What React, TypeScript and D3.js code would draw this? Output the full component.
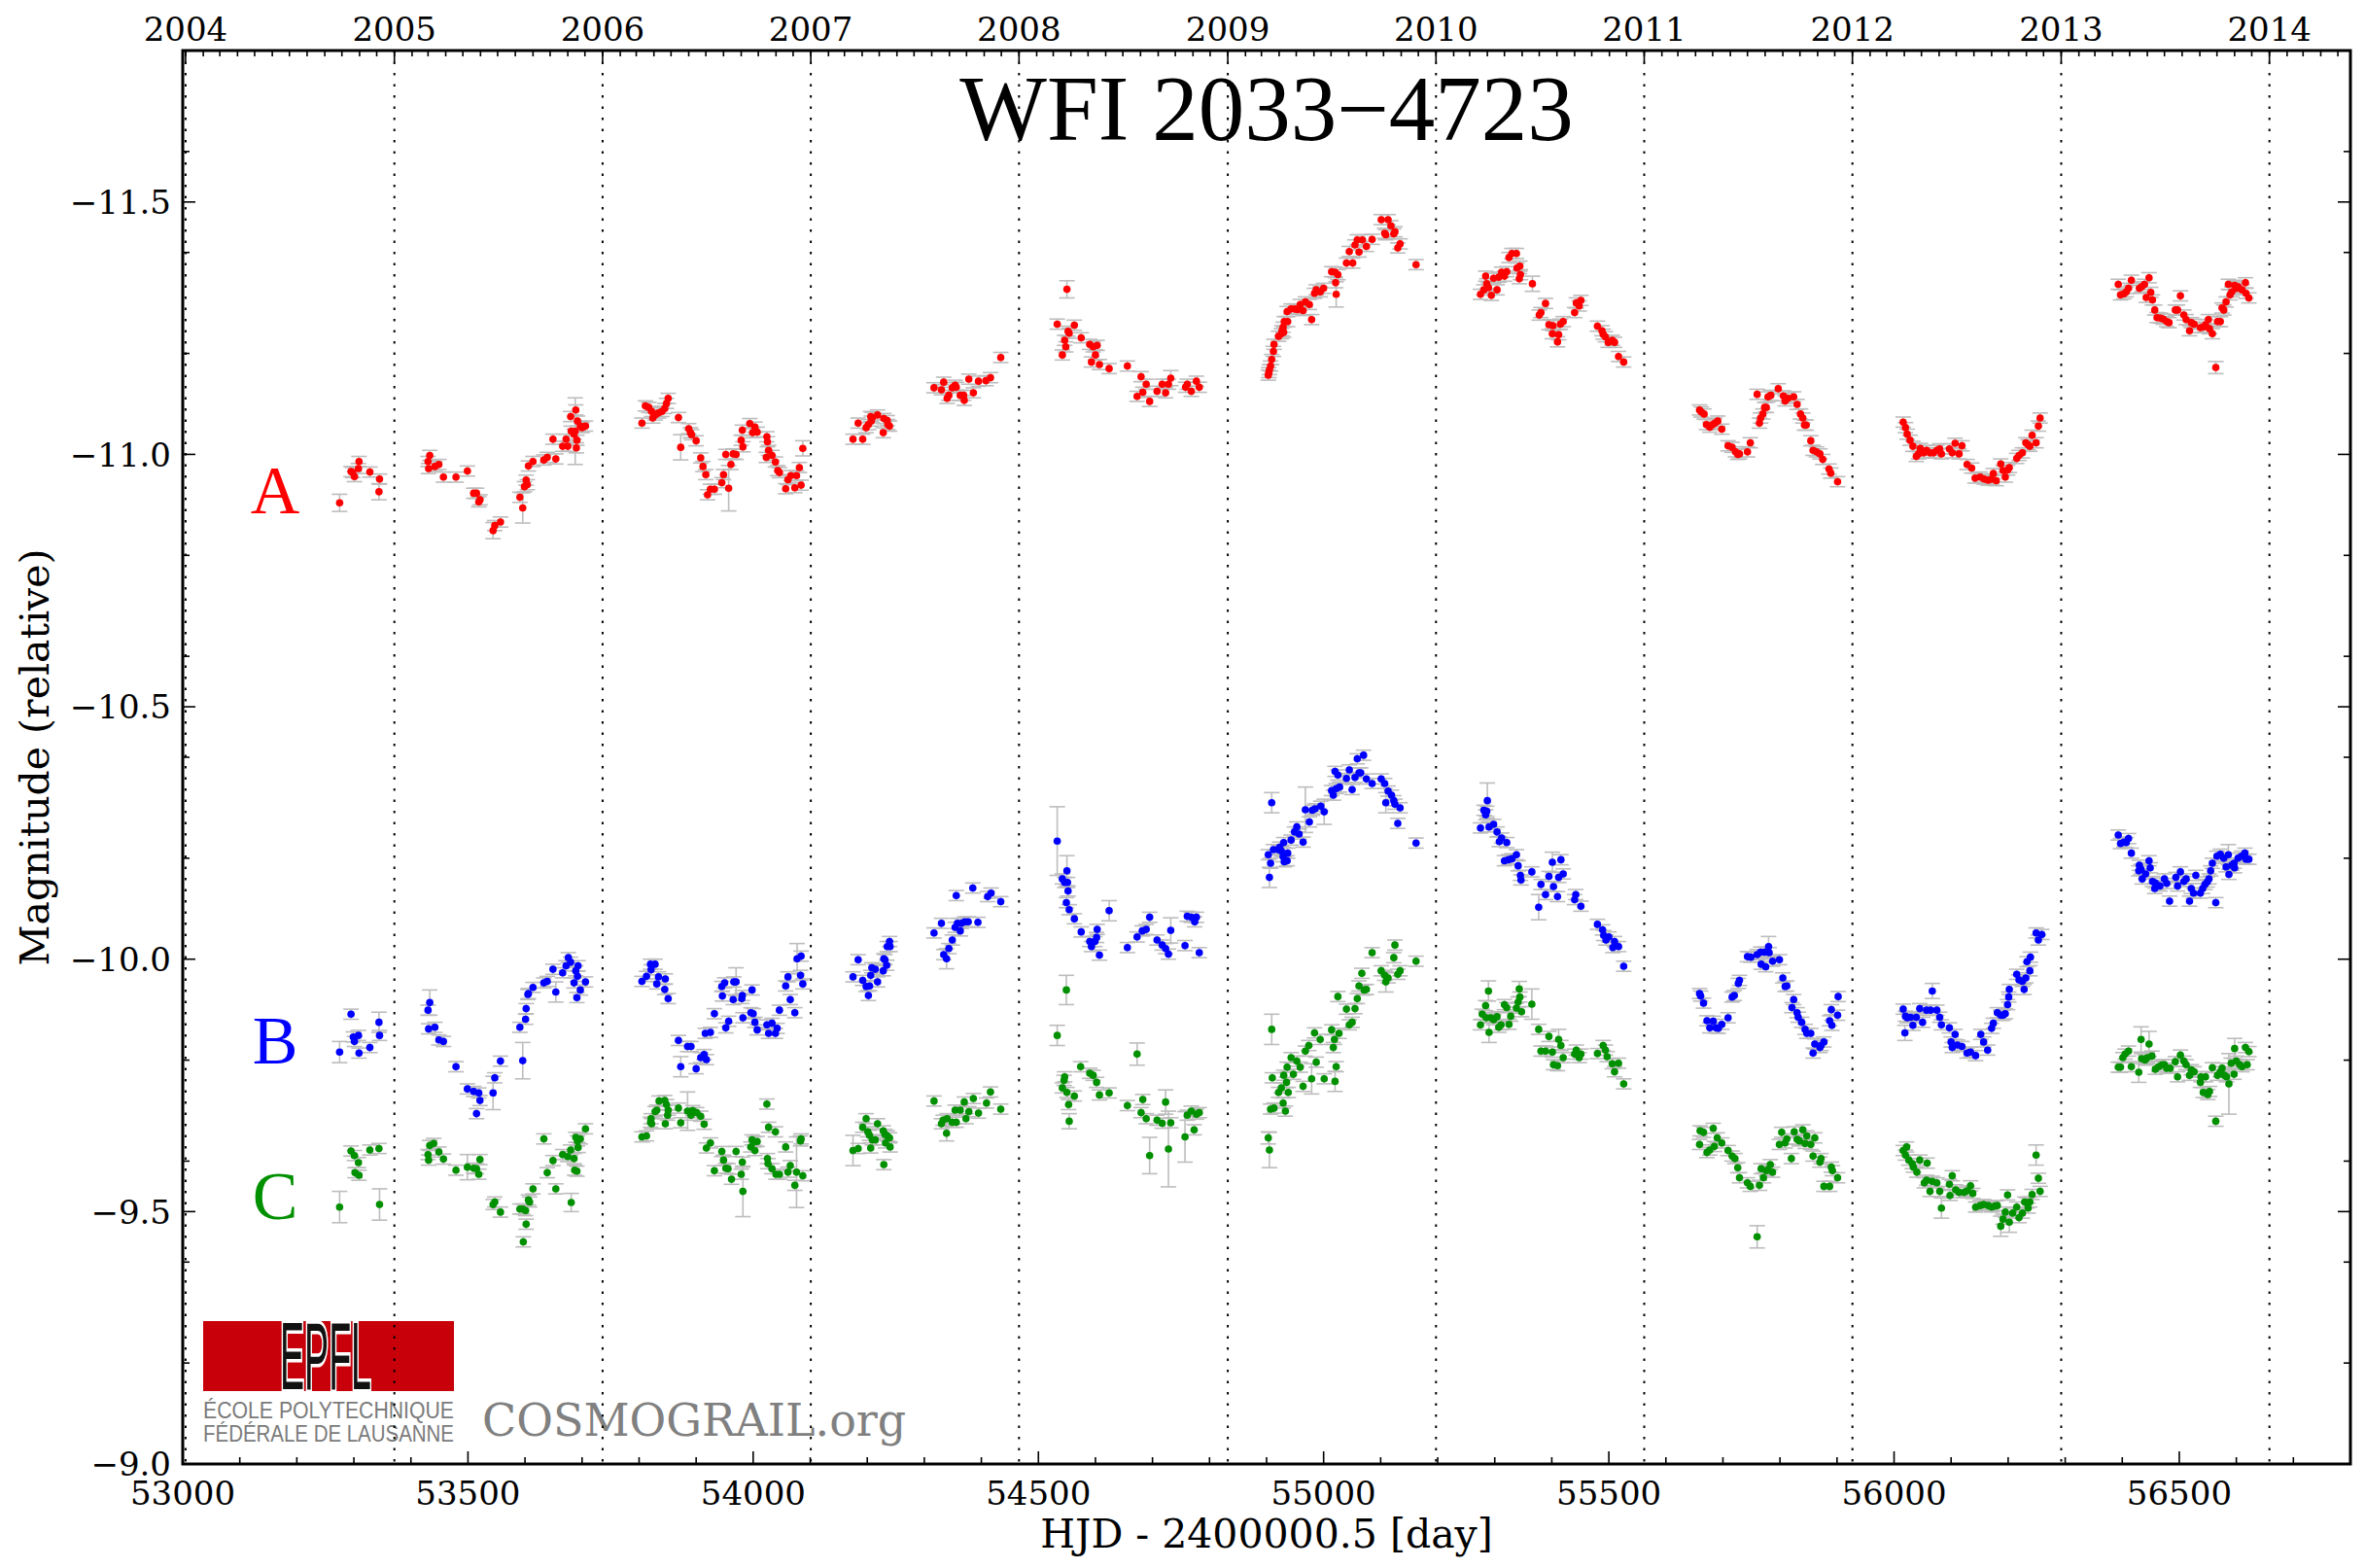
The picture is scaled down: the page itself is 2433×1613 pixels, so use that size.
import React from 'react';
import * as d3 from 'd3';

// [HJD - 2400000.5, magnitude, optional 1-sigma error]
type Obs = [number, number, number?];

const TITLE = 'WFI 2033\u22124723';
const X_LABEL = 'HJD - 2400000.5 [day]';
const Y_LABEL = 'Magnitude (relative)';

const X_DOMAIN: [number, number] = [53000, 56800];
const Y_DOMAIN: [number, number] = [-11.8, -9.0];
const X_MAJOR = [53000, 53500, 54000, 54500, 55000, 55500, 56000, 56500];
const X_MINOR_STEP = 100;
const Y_MAJOR = [-11.5, -11.0, -10.5, -10.0, -9.5, -9.0];
const Y_MINOR = [-11.8, -11.6, -11.4, -11.2, -10.8, -10.6, -10.4, -10.2, -9.8, -9.6, -9.4, -9.2];
const YEARS = [2004, 2005, 2006, 2007, 2008, 2009, 2010, 2011, 2012, 2013, 2014];
const DEFAULT_ERR = 0.01;

const IMAGE_A: Obs[] = [
  [53275,-10.904,0.017],[53295,-10.966],[53298,-10.964],[53301,-10.956],[53308,-10.972],[53309,-10.986],[53328,-10.965],[53344,-10.926,0.016],[53345,-10.951],
  [53430,-10.986],[53431,-10.972],[53433,-10.998],[53442,-10.976],[53449,-10.980],[53457,-10.955],[53479,-10.955],[53499,-10.967],[53510,-10.923],[53515,-10.923],[53519,-10.906],[53521,-10.910],[53544,-10.849,0.016],[53547,-10.859],[53557,-10.866],[53591,-10.915],[53596,-10.894,0.03],[53599,-10.936],[53602,-10.949],[53604,-10.940],[53606,-10.977],[53614,-10.986],[53633,-10.989],[53639,-10.994],[53649,-11.030],[53654,-10.991],[53666,-11.016],[53672,-11.030],[53675,-11.016],[53680,-11.075],[53681,-11.046],[53686,-11.040],[53688,-11.046,0.066],[53689,-11.088],[53690,-11.013],[53691,-11.028],[53692,-11.066],[53697,-11.056],[53700,-11.053],[53706,-11.056],
  [53805,-11.062],[53811,-11.096],[53817,-11.093],[53822,-11.085],[53824,-11.072],[53828,-11.078],[53834,-11.082],[53840,-11.085],[53845,-11.091],[53848,-11.101],[53851,-11.111],[53869,-11.073],[53873,-11.014,0.025],[53887,-11.051],[53890,-11.043],[53892,-11.039],[53900,-11.027],[53908,-10.993],[53912,-10.976],[53917,-10.960],[53920,-10.920],[53925,-10.931],[53932,-10.931],[53945,-10.944],[53948,-10.960],[53952,-11.000],[53957,-10.933,0.045],[53961,-10.980],[53965,-11.001],[53970,-11.000],[53979,-11.028],[53981,-11.048],[53982,-11.015],
  [53994,-11.061],[53999,-11.043],[54003,-11.054],[54007,-11.044],[54023,-10.994],[54024,-11.035],[54025,-11.025],[54027,-11.008],[54033,-10.998],[54039,-10.985],[54043,-10.968],[54046,-10.964],[54057,-10.932],[54061,-10.950],[54066,-10.958],[54073,-10.934],[54076,-10.958],[54081,-10.974],[54084,-10.939],[54087,-11.012,0.015],
  [54175,-11.030],[54184,-11.062],[54192,-11.030],[54198,-11.053],[54202,-11.059],[54206,-11.075],[54207,-11.066],[54209,-11.073],[54218,-11.078],[54228,-11.043],[54229,-11.071],[54235,-11.067],[54236,-11.059],[54239,-11.056],
  [54317,-11.132],[54330,-11.128],[54334,-11.143],[54340,-11.111],[54343,-11.117],[54349,-11.132],[54354,-11.137],[54356,-11.133],[54363,-11.117],[54369,-11.117],[54370,-11.107],[54378,-11.149],[54386,-11.122],[54395,-11.145],[54408,-11.146],[54416,-11.152],[54434,-11.192],
  [54533,-11.258],[54542,-11.197],[54546,-11.226],[54548,-11.213],[54550,-11.327,0.017],[54552,-11.244],[54554,-11.240],[54563,-11.256],[54575,-11.231],[54590,-11.218],[54593,-11.183],[54596,-11.213],[54600,-11.197],[54603,-11.216],[54607,-11.178],[54624,-11.170],[54656,-11.175],[54673,-11.115],[54680,-11.154],[54683,-11.123],[54689,-11.139],[54695,-11.105],[54708,-11.125],[54717,-11.139],[54723,-11.122],[54728,-11.139],[54732,-11.151,0.015],[54758,-11.133],[54761,-11.139],[54768,-11.125],[54777,-11.145],[54782,-11.133],
  [54903,-11.157],[54904,-11.162],[54905,-11.168],[54907,-11.175],[54909,-11.188],[54912,-11.204],[54913,-11.218],[54921,-11.234],[54926,-11.239],[54927,-11.245],[54929,-11.252],[54930,-11.242],[54931,-11.263],[54936,-11.283],[54937,-11.263],[54943,-11.288],[54949,-11.288],[54954,-11.287],[54959,-11.297],[54964,-11.285],[54968,-11.302],[54975,-11.297],[54979,-11.267],[54984,-11.319],[54987,-11.326],[54994,-11.322],[55000,-11.329],[55014,-11.362],[55020,-11.361],[55021,-11.340],[55022,-11.317,0.025],[55025,-11.356],[55040,-11.379],[55045,-11.402],[55051,-11.379],[55055,-11.415],[55059,-11.425],[55062,-11.401],[55068,-11.425],[55075,-11.412],[55085,-11.426],[55101,-11.465],[55107,-11.438],[55109,-11.435],[55113,-11.465],[55118,-11.453],[55123,-11.437],[55125,-11.441],[55130,-11.409],[55134,-11.417],[55162,-11.376],
  [55275,-11.317],[55281,-11.326],[55284,-11.353],[55286,-11.338],[55289,-11.330],[55294,-11.315],[55298,-11.349],[55304,-11.326],[55307,-11.351],[55312,-11.361],[55317,-11.353],[55321,-11.362],[55325,-11.390],[55330,-11.398],[55338,-11.398],[55339,-11.369],[55343,-11.348],[55344,-11.373],[55345,-11.356],[55366,-11.338,0.015],[55378,-11.276],[55381,-11.281],[55389,-11.299],[55395,-11.257],[55401,-11.239],[55402,-11.255],[55410,-11.223],[55412,-11.237],[55415,-11.258],[55420,-11.263],[55440,-11.281],[55443,-11.300],[55448,-11.294],[55451,-11.305],[55480,-11.254],[55488,-11.245],[55490,-11.238],[55494,-11.233],[55499,-11.222],[55506,-11.226],[55510,-11.222],[55517,-11.194],[55526,-11.183],
  [55659,-11.088],[55662,-11.084],[55667,-11.080],[55671,-11.059],[55677,-11.054],[55682,-11.059],[55686,-11.062],[55691,-11.066],[55698,-11.050],[55709,-11.017],[55716,-11.014],[55722,-11.005],[55726,-11.000],[55729,-11.001],[55743,-11.005],[55748,-11.023],[55760,-11.119],[55764,-11.062],[55766,-11.072],[55770,-11.080],[55773,-11.093],[55776,-11.093],[55779,-11.114],[55784,-11.117],[55797,-11.130],[55806,-11.116],[55809,-11.106],[55814,-11.111],[55824,-11.114],[55830,-11.099],[55836,-11.080],[55840,-11.072],[55843,-11.058],[55846,-11.058],[55854,-11.027],[55858,-11.008],[55864,-11.005],[55870,-11.001],[55875,-10.990],[55886,-10.971],[55889,-10.963],[55901,-10.946],
  [56016,-11.064],[56020,-11.053],[56023,-11.040],[56028,-11.028],[56033,-11.016],[56039,-10.996],[56043,-11.001],[56046,-11.012],[56052,-11.003],[56057,-11.008],[56063,-11.003],[56069,-11.003],[56075,-11.008],[56080,-11.011],[56083,-11.001],[56097,-11.011],[56102,-11.003],[56107,-11.022],[56114,-11.001],[56119,-11.017],[56128,-10.980],[56136,-10.973],[56142,-10.953],[56151,-10.955],[56158,-10.951],[56165,-10.949],[56171,-10.951],[56174,-10.962],[56179,-10.948],[56187,-10.981],[56191,-10.968],[56195,-10.955],[56199,-10.969],[56202,-10.974],[56215,-10.992],[56219,-10.998],[56225,-11.003],[56231,-11.023],[56235,-11.019],[56238,-11.016],[56242,-11.038],[56249,-11.023],[56253,-11.056],[56256,-11.072],
  [56393,-11.337],[56397,-11.316],[56403,-11.318],[56407,-11.322],[56411,-11.329],[56416,-11.345],[56430,-11.329],[56434,-11.332],[56439,-11.337],[56442,-11.311],[56447,-11.350],[56450,-11.321],[56453,-11.306],[56457,-11.286],[56461,-11.271],[56467,-11.270],[56472,-11.268],[56478,-11.263],[56482,-11.261],[56493,-11.286],[56497,-11.286],[56502,-11.314],[56508,-11.276],[56512,-11.267],[56518,-11.245],[56521,-11.261],[56526,-11.258],[56537,-11.251],[56542,-11.252],[56546,-11.257],[56551,-11.267],[56553,-11.249],[56558,-11.239],[56564,-11.172,0.012],[56567,-11.263],[56572,-11.263],[56575,-11.290],[56578,-11.286],[56582,-11.302],[56586,-11.337],[56589,-11.316],[56592,-11.322],[56597,-11.335],[56600,-11.329],[56603,-11.332],[56610,-11.326],[56616,-11.340],[56617,-11.319],[56622,-11.310],
];

const IMAGE_B: Obs[] = [
  [53275,-9.816,0.021],[53295,-9.891],[53299,-9.846],[53301,-9.837],[53308,-9.849],[53309,-9.814],[53328,-9.825],[53344,-9.875,0.02],[53345,-9.849],
  [53430,-9.899],[53431,-9.862],[53433,-9.914,0.025],[53442,-9.865],[53449,-9.840],[53457,-9.837],[53479,-9.787],[53499,-9.743],[53510,-9.738],[53515,-9.694],[53519,-9.735],[53521,-9.720],[53544,-9.735,0.033],[53547,-9.765],[53557,-9.798],[53591,-9.865],[53596,-9.799,0.036],[53601,-9.881],[53602,-9.902],[53605,-9.930],[53606,-9.932],[53614,-9.944],[53633,-9.953],[53639,-9.956],[53649,-9.980],[53654,-9.935,0.02],[53666,-9.973],[53672,-9.987],[53676,-10.003],[53680,-9.994],[53686,-9.953],[53689,-9.977],[53691,-9.924],[53692,-9.966],[53693,-9.987],[53697,-9.939],[53706,-9.955],
  [53805,-9.956],[53813,-9.966],[53820,-9.990],[53821,-9.979],[53828,-9.990],[53831,-9.951],[53834,-9.965],[53845,-9.940],[53846,-9.961],[53851,-9.922],[53869,-9.839],[53873,-9.787,0.02],[53885,-9.827],[53891,-9.827],[53900,-9.783],[53908,-9.805],[53914,-9.811],[53916,-9.853],[53918,-9.801],[53925,-9.855],[53932,-9.892],[53945,-9.946],[53946,-9.927],[53950,-9.953],[53952,-9.864],[53957,-9.877],[53965,-9.920],[53966,-9.955],[53970,-9.955,0.028],[53980,-9.922],[53981,-9.928],[53982,-9.884],
  [53996,-9.894],[53998,-9.939],[54000,-9.892],[54003,-9.875],[54007,-9.860],[54024,-9.870],[54027,-9.853],[54033,-9.873],[54039,-9.853],[54042,-9.863],[54046,-9.899],[54057,-9.947],[54061,-9.965],[54065,-9.920],[54073,-9.894],[54077,-10.001,0.03],[54083,-9.968],[54084,-10.006],[54087,-9.951],
  [54175,-9.965],[54184,-9.999],[54192,-9.958],[54198,-9.946],[54202,-9.928],[54204,-9.947],[54206,-9.968],[54208,-9.983],[54214,-9.980],[54218,-9.955],[54228,-9.977],[54229,-10.001],[54231,-9.999],[54234,-9.988],[54235,-10.025],[54239,-10.035],[54240,-10.025],
  [54317,-10.052],[54330,-10.071],[54334,-10.009],[54339,-10.001,0.02],[54343,-10.021],[54349,-10.038],[54354,-10.063],[54356,-10.126],[54358,-10.071],[54363,-10.056],[54365,-10.071],[54371,-10.074],[54377,-10.074],[54385,-10.141],[54394,-10.073],[54411,-10.124],[54417,-10.131],[54434,-10.114],
  [54533,-10.234,0.068],[54542,-10.159],[54546,-10.152],[54549,-10.112],[54550,-10.175,0.03],[54551,-10.152],[54552,-10.135],[54554,-10.098],[54563,-10.080],[54575,-10.054],[54590,-10.035],[54593,-10.025],[54599,-10.035],[54602,-10.043],[54603,-10.059],[54607,-10.008],[54624,-10.096,0.02],[54656,-10.023],[54673,-10.044],[54682,-10.056],[54689,-10.059],[54695,-10.083],[54708,-10.038],[54717,-10.028],[54723,-10.021],[54728,-10.010],[54732,-10.057,0.025],[54757,-10.027],[54761,-10.085],[54768,-10.083],[54774,-10.074],[54777,-10.083],[54782,-10.013],
  [54903,-10.207],[54905,-10.162,0.02],[54907,-10.190],[54909,-10.310,0.02],[54912,-10.217],[54920,-10.217],[54923,-10.222],[54926,-10.214],[54929,-10.203],[54930,-10.231],[54931,-10.193],[54936,-10.195],[54937,-10.210],[54943,-10.236],[54949,-10.252],[54953,-10.262],[54957,-10.248],[54964,-10.232],[54968,-10.296,0.045],[54975,-10.272],[54980,-10.295],[54985,-10.298],[54995,-10.303],[55001,-10.292,0.025],[55014,-10.334],[55017,-10.325],[55020,-10.372],[55022,-10.338],[55025,-10.365],[55028,-10.341],[55040,-10.358],[55045,-10.375],[55050,-10.336],[55055,-10.360],[55059,-10.397],[55062,-10.369],[55065,-10.369],[55070,-10.404],[55075,-10.357],[55085,-10.348],[55101,-10.357],[55107,-10.348],[55109,-10.310,0.02],[55113,-10.333],[55119,-10.325],[55123,-10.314],[55125,-10.307],[55130,-10.269],[55134,-10.300],[55162,-10.230],
  [55275,-10.260],[55281,-10.295],[55284,-10.286],[55286,-10.293],[55287,-10.314,0.035],[55290,-10.262],[55298,-10.267],[55304,-10.252],[55308,-10.233],[55312,-10.240],[55317,-10.195],[55321,-10.231],[55324,-10.197],[55330,-10.199],[55338,-10.207],[55341,-10.185],[55345,-10.166],[55346,-10.157],[55365,-10.173],[55377,-10.103,0.025],[55381,-10.148],[55389,-10.128],[55395,-10.164],[55401,-10.192,0.02],[55403,-10.144],[55410,-10.124],[55412,-10.162],[55416,-10.197],[55420,-10.169],[55440,-10.118],[55442,-10.128],[55451,-10.105],[55480,-10.069],[55489,-10.058],[55491,-10.047],[55495,-10.038],[55500,-10.044],[55507,-10.023],[55510,-10.035],[55517,-10.025],[55526,-9.986],
  [55659,-9.932],[55661,-9.927],[55666,-9.913],[55672,-9.878],[55677,-9.864],[55683,-9.877],[55688,-9.864],[55692,-9.863],[55698,-9.871],[55709,-9.884],[55716,-9.925],[55720,-9.928],[55727,-9.952],[55729,-9.958],[55743,-10.005],[55749,-10.004],[55760,-10.009],[55766,-10.014],[55767,-9.990],[55773,-10.014],[55775,-9.985],[55780,-10.025,0.02],[55781,-10.013],[55787,-9.996],[55799,-9.999],[55805,-9.963],[55809,-9.946],[55812,-9.947],[55821,-9.904],[55824,-9.920],[55830,-9.894],[55832,-9.885],[55838,-9.875],[55844,-9.861],[55847,-9.853],[55854,-9.853],[55858,-9.814],[55861,-9.832],[55870,-9.825],[55872,-9.829],[55877,-9.836],[55887,-9.878],[55890,-9.900],[55891,-9.869],[55901,-9.889],[55902,-9.926],
  [56016,-9.901],[56019,-9.854,0.015],[56020,-9.887],[56023,-9.884],[56029,-9.885],[56033,-9.869],[56039,-9.885],[56045,-9.902],[56050,-9.875],[56057,-9.899],[56064,-9.899],[56067,-9.937,0.015],[56075,-9.899],[56080,-9.885],[56083,-9.870],[56097,-9.864],[56100,-9.836],[56102,-9.825],[56107,-9.851],[56111,-9.830],[56119,-9.827],[56128,-9.814],[56134,-9.816],[56143,-9.809],[56152,-9.851],[56157,-9.836],[56164,-9.820],[56171,-9.863],[56174,-9.873],[56181,-9.894],[56187,-9.889],[56191,-9.889],[56195,-9.892],[56199,-9.910],[56201,-9.925],[56202,-9.940],[56215,-9.970],[56219,-9.959],[56225,-9.956],[56228,-9.940],[56231,-9.963],[56233,-9.995],[56238,-9.977],[56239,-10.004],[56249,-10.052],[56253,-10.038],[56259,-10.049],
  [56393,-10.246],[56397,-10.229],[56403,-10.232],[56407,-10.231],[56411,-10.239],[56416,-10.210],[56429,-10.175],[56430,-10.186],[56433,-10.178],[56435,-10.159],[56441,-10.169],[56447,-10.195],[56449,-10.181],[56453,-10.154],[56457,-10.140],[56458,-10.151],[56462,-10.146],[56466,-10.145],[56474,-10.159],[56478,-10.150],[56483,-10.115],[56494,-10.162],[56497,-10.145],[56502,-10.173],[56508,-10.154],[56512,-10.159],[56518,-10.115],[56521,-10.140],[56525,-10.131],[56529,-10.166],[56537,-10.131],[56541,-10.140],[56545,-10.148],[56549,-10.153],[56552,-10.159],[56555,-10.175],[56558,-10.190],[56564,-10.112],[56566,-10.204],[56572,-10.208],[56578,-10.200],[56582,-10.183],[56586,-10.207,0.02],[56587,-10.168],[56592,-10.186],[56596,-10.190],[56597,-10.181],[56603,-10.200],[56609,-10.204],[56615,-10.210],[56617,-10.198],[56622,-10.198],
];

const IMAGE_C: Obs[] = [
  [53275,-9.509,0.031],[53295,-9.620],[53301,-9.611],[53302,-9.577],[53308,-9.597],[53309,-9.572],[53328,-9.622],[53344,-9.625],[53345,-9.514,0.031],
  [53430,-9.613],[53431,-9.602],[53433,-9.631],[53440,-9.635],[53449,-9.618],[53457,-9.604],[53479,-9.582],[53499,-9.588,0.025],[53510,-9.586],[53515,-9.585],[53519,-9.574],[53521,-9.603],[53544,-9.514],[53547,-9.519],[53557,-9.499],[53591,-9.505],[53596,-9.505],[53597,-9.440],[53601,-9.502],[53602,-9.475],[53606,-9.523],[53608,-9.519],[53614,-9.545],[53633,-9.644],[53639,-9.577],[53649,-9.601],[53654,-9.545],[53666,-9.613],[53675,-9.609],[53680,-9.622],[53681,-9.518,0.018],[53686,-9.605],[53687,-9.582],[53689,-9.647],[53691,-9.580],[53692,-9.640],[53693,-9.627],[53697,-9.644],[53706,-9.664],
  [53805,-9.648],[53813,-9.650],[53820,-9.677],[53821,-9.684],[53822,-9.674],[53828,-9.698],[53831,-9.701],[53835,-9.719],[53845,-9.720],[53846,-9.674],[53848,-9.712],[53850,-9.691],[53851,-9.701],[53869,-9.705],[53873,-9.676],[53885,-9.699,0.038],[53891,-9.691],[53894,-9.700],[53901,-9.696],[53908,-9.689],[53914,-9.673],[53918,-9.626],[53925,-9.636],[53932,-9.581],[53945,-9.619],[53948,-9.602],[53952,-9.586],[53956,-9.585],[53962,-9.564],[53970,-9.619],[53979,-9.574],[53981,-9.598],[53982,-9.540,0.05],
  [53996,-9.628],[53998,-9.642],[54002,-9.638],[54003,-9.621],[54007,-9.639],[54024,-9.713],[54025,-9.605],[54026,-9.595],[54027,-9.667],[54033,-9.585],[54039,-9.658],[54040,-9.574],[54046,-9.574],[54057,-9.628],[54061,-9.578],[54065,-9.591],[54073,-9.552],[54076,-9.578,0.07],[54083,-9.640],[54084,-9.644],[54087,-9.571],
  [54175,-9.621,0.03],[54184,-9.625],[54192,-9.667],[54198,-9.684],[54201,-9.658],[54204,-9.651],[54206,-9.626],[54209,-9.642],[54214,-9.642],[54218,-9.674],[54228,-9.660],[54229,-9.593],[54231,-9.653],[54232,-9.636],[54235,-9.650],[54239,-9.646],[54240,-9.628],
  [54317,-9.719],[54330,-9.674],[54333,-9.681],[54339,-9.655,0.015],[54340,-9.684],[54349,-9.677],[54354,-9.701],[54356,-9.677],[54363,-9.701],[54370,-9.717],[54373,-9.684],[54378,-9.698],[54386,-9.724],[54395,-9.695],[54409,-9.715],[54416,-9.737],[54434,-9.703],
  [54533,-9.849,0.02],[54542,-9.745],[54545,-9.760],[54546,-9.767],[54549,-9.939,0.029],[54550,-9.736],[54553,-9.712],[54554,-9.679,0.015],[54563,-9.729],[54574,-9.787],[54590,-9.774],[54596,-9.770],[54602,-9.756],[54607,-9.731],[54624,-9.735],[54656,-9.710],[54673,-9.812,0.022],[54680,-9.696],[54683,-9.722],[54689,-9.684],[54695,-9.611,0.036],[54708,-9.681],[54717,-9.675],[54723,-9.717,0.024],[54728,-9.624,0.075],[54732,-9.676],[54757,-9.648,0.05],[54761,-9.691],[54768,-9.699],[54773,-9.662],[54777,-9.693],[54782,-9.696],
  [54903,-9.646,0.012],[54905,-9.622,0.035],[54907,-9.703],[54909,-9.861,0.03],[54910,-9.765],[54913,-9.705],[54921,-9.736],[54926,-9.745],[54929,-9.715],[54930,-9.770],[54933,-9.699],[54935,-9.756],[54936,-9.786],[54938,-9.736],[54943,-9.805],[54947,-9.772],[54953,-9.798],[54959,-9.786],[54964,-9.748],[54968,-9.818],[54974,-9.829],[54979,-9.763,0.03],[54984,-9.854],[54987,-9.796],[54994,-9.841],[55001,-9.763],[55014,-9.860],[55017,-9.825],[55019,-9.841],[55020,-9.758,0.02],[55022,-9.787],[55025,-9.926],[55027,-9.853],[55040,-9.901],[55045,-9.870],[55050,-9.875],[55055,-9.902],[55059,-9.922],[55062,-9.947],[55067,-9.972],[55071,-9.939],[55075,-9.940],[55085,-10.013],[55101,-9.977],[55107,-9.968],[55109,-9.955,0.02],[55113,-9.963],[55123,-10.003],[55125,-10.028],[55130,-9.970],[55134,-9.977],[55162,-9.996],
  [55275,-9.870],[55278,-9.891],[55284,-9.908],[55285,-9.884],[55289,-9.937,0.02],[55290,-9.855,0.02],[55293,-9.884],[55298,-9.880],[55304,-9.886],[55307,-9.865],[55311,-9.870],[55317,-9.910],[55321,-9.904],[55325,-9.871],[55328,-9.887],[55338,-9.903],[55341,-9.915],[55343,-9.941,0.015],[55344,-9.925],[55347,-9.896],[55365,-9.911,0.03],[55377,-9.861],[55381,-9.818],[55389,-9.818],[55395,-9.847],[55401,-9.816],[55403,-9.791],[55410,-9.789],[55412,-9.841,0.02],[55416,-9.829],[55420,-9.805],[55440,-9.812],[55443,-9.820],[55448,-9.805],[55451,-9.812],[55480,-9.813],[55490,-9.829],[55494,-9.820],[55497,-9.807],[55506,-9.793],[55510,-9.777],[55517,-9.794],[55526,-9.753],
  [55659,-9.633],[55660,-9.660],[55666,-9.657],[55672,-9.617],[55677,-9.622],[55683,-9.665],[55685,-9.629],[55690,-9.646],[55698,-9.636],[55709,-9.621],[55716,-9.610],[55721,-9.605],[55726,-9.587],[55729,-9.567],[55743,-9.557],[55748,-9.550],[55760,-9.450,0.022],[55764,-9.552],[55767,-9.585],[55771,-9.567],[55776,-9.581],[55779,-9.583],[55783,-9.593],[55787,-9.578],[55799,-9.633],[55803,-9.657],[55809,-9.636],[55812,-9.644],[55820,-9.605],[55825,-9.658],[55830,-9.643],[55834,-9.640],[55840,-9.662],[55844,-9.635],[55847,-9.650],[55854,-9.633],[55858,-9.610],[55861,-9.646],[55870,-9.598],[55872,-9.605],[55877,-9.550],[55887,-9.550],[55890,-9.588],[55892,-9.581],[55901,-9.567],
  [56016,-9.621],[56020,-9.612],[56022,-9.628],[56026,-9.602],[56032,-9.595],[56034,-9.588],[56040,-9.578],[56045,-9.602],[56053,-9.557],[56057,-9.562],[56058,-9.596],[56063,-9.540],[56067,-9.560],[56075,-9.557],[56080,-9.540],[56083,-9.507,0.02],[56097,-9.554],[56098,-9.532],[56102,-9.571],[56108,-9.543],[56114,-9.538],[56123,-9.538],[56128,-9.541],[56134,-9.551],[56138,-9.536],[56143,-9.509],[56151,-9.512],[56157,-9.514],[56165,-9.512],[56171,-9.509],[56177,-9.511],[56181,-9.512],[56187,-9.471,0.02],[56191,-9.485],[56195,-9.499],[56199,-9.533],[56202,-9.479,0.02],[56208,-9.497],[56215,-9.509],[56219,-9.488],[56225,-9.497],[56229,-9.519],[56233,-9.517],[56235,-9.507],[56238,-9.519],[56242,-9.534],[56249,-9.612,0.02],[56253,-9.566],[56256,-9.540],
  [56393,-9.786],[56397,-9.786],[56401,-9.805],[56405,-9.812],[56411,-9.818],[56416,-9.787],[56429,-9.776,0.02],[56433,-9.841,0.025],[56434,-9.803],[56440,-9.800],[56444,-9.805],[56447,-9.832,0.025],[56452,-9.808],[56458,-9.782],[56464,-9.787],[56470,-9.791],[56474,-9.791],[56478,-9.784],[56484,-9.784],[56493,-9.797],[56497,-9.767],[56502,-9.810],[56508,-9.798],[56512,-9.791],[56518,-9.770],[56521,-9.781],[56526,-9.777],[56537,-9.756],[56538,-9.767],[56542,-9.736],[56546,-9.767],[56550,-9.732],[56553,-9.738],[56558,-9.785],[56564,-9.679,0.01],[56567,-9.770],[56572,-9.777],[56575,-9.784],[56579,-9.770],[56583,-9.767],[56587,-9.753,0.06],[56591,-9.794],[56596,-9.772],[56597,-9.823,0.02],[56600,-9.798],[56606,-9.791],[56610,-9.787],[56616,-9.825],[56619,-9.791],[56622,-9.817],
];

const SERIES = [
  { name: 'A', color: '#ff0000', data: IMAGE_A },
  { name: 'B', color: '#0000ff', data: IMAGE_B },
  { name: 'C', color: '#009000', data: IMAGE_C },
];

// Figure geometry (pixels)
const W = 2433;
const H = 1613;
const PLOT = { left: 188, right: 2418, top: 52, bottom: 1506 };
const LABEL_POS: Record<string, [number, number]> = { A: [283, 528], B: [283, 1094], C: [283, 1254] };

const SERIF = '"DejaVu Serif", serif';
const ROMAN = '"Liberation Serif", "Times New Roman", serif';
const SANS = '"Liberation Sans", Arial, sans-serif';

// Calendar date -> MJD (HJD - 2400000.5)
const toMJD = (d: Date) => d.getTime() / 86400000 + 40587;

export default function App() {
  const x = d3.scaleLinear().domain(X_DOMAIN).range([PLOT.left, PLOT.right]);
  const y = d3.scaleLinear().domain(Y_DOMAIN).range([PLOT.top, PLOT.bottom]);

  const xMinor = d3.range(X_DOMAIN[0], X_DOMAIN[1] + 1, X_MINOR_STEP).filter((v) => !X_MAJOR.includes(v));
  const yearMJD = YEARS.map((yr) => ({ yr, mjd: toMJD(new Date(Date.UTC(yr, 0, 1))) }));
  const months = d3.utcMonth
    .range(new Date(Date.UTC(2004, 0, 1)), new Date(Date.UTC(2015, 0, 1)))
    .map(toMJD)
    .filter((m) => m >= X_DOMAIN[0] && m <= X_DOMAIN[1]);

  const capHalf = 8;

  return (
    <svg width={W} height={H} style={{ position: 'absolute', left: 0, top: 0, background: '#fff' }}>
      <rect x={0} y={0} width={W} height={H} fill="#fff" />

      {/* EPFL logo and site credit */}
      <g>
        <rect x={209} y={1359} width={258} height={72} fill="#c8000a" />
        <text x={288} y={1429} fontFamily={SANS} fontSize={98} textLength={94} lengthAdjust="spacingAndGlyphs"
          fill="#111" stroke="#fff" strokeWidth={7} style={{ paintOrder: 'stroke' }}>EPFL</text>
        <text x={209} y={1459} fontFamily={SANS} fontSize={23}
          textLength={258} lengthAdjust="spacingAndGlyphs" fill="#7a7a7a">ÉCOLE POLYTECHNIQUE</text>
        <text x={209} y={1483} fontFamily={SANS} fontSize={23}
          textLength={258} lengthAdjust="spacingAndGlyphs" fill="#7a7a7a">FÉDÉRALE DE LAUSANNE</text>
        <text x={496} y={1477} fontFamily={SERIF} fontSize={46} fill="#808080">COSMOGRAIL.org</text>
      </g>

      {/* year boundaries */}
      {yearMJD.map(({ yr, mjd }) => (
        <line key={`yl${yr}`} x1={x(mjd)} x2={x(mjd)} y1={PLOT.top} y2={PLOT.bottom}
          stroke="#000" strokeWidth={2} strokeDasharray="2.5 9" />
      ))}

      {/* error bars */}
      {SERIES.map((s) => (
        <g key={`e${s.name}`} stroke="#bdbdbd" strokeWidth={1.6}>
          {s.data.map((d, i) => {
            const e = d[2] ?? DEFAULT_ERR;
            const cx = x(d[0]);
            const y1 = y(d[1] - e);
            const y2 = y(d[1] + e);
            return (
              <g key={i}>
                <line x1={cx} x2={cx} y1={y1} y2={y2} />
                <line x1={cx - capHalf} x2={cx + capHalf} y1={y1} y2={y1} />
                <line x1={cx - capHalf} x2={cx + capHalf} y1={y2} y2={y2} />
              </g>
            );
          })}
        </g>
      ))}

      {/* points */}
      {SERIES.map((s) => (
        <g key={`p${s.name}`} fill={s.color}>
          {s.data.map((d, i) => (
            <circle key={i} cx={x(d[0])} cy={y(d[1])} r={3.8} />
          ))}
        </g>
      ))}

      {/* frame */}
      <rect x={PLOT.left} y={PLOT.top} width={PLOT.right - PLOT.left} height={PLOT.bottom - PLOT.top}
        fill="none" stroke="#000" strokeWidth={3} />

      {/* bottom / top / side ticks */}
      <g stroke="#000" strokeWidth={1.6}>
        {X_MAJOR.map((v) => (
          <line key={`bM${v}`} x1={x(v)} x2={x(v)} y1={PLOT.bottom} y2={PLOT.bottom - 13} />
        ))}
        {xMinor.map((v) => (
          <line key={`bm${v}`} x1={x(v)} x2={x(v)} y1={PLOT.bottom} y2={PLOT.bottom - 7} />
        ))}
        {months.map((m) => (
          <line key={`tm${m}`} x1={x(m)} x2={x(m)} y1={PLOT.top} y2={PLOT.top + 6} />
        ))}
        {yearMJD.map(({ yr, mjd }) => (
          <line key={`tM${yr}`} x1={x(mjd)} x2={x(mjd)} y1={PLOT.top} y2={PLOT.top + 12} />
        ))}
        {Y_MAJOR.map((v) => (
          <g key={`yM${v}`}>
            <line x1={PLOT.left} x2={PLOT.left + 13} y1={y(v)} y2={y(v)} />
            <line x1={PLOT.right} x2={PLOT.right - 13} y1={y(v)} y2={y(v)} />
          </g>
        ))}
        {Y_MINOR.map((v) => (
          <g key={`ym${v}`}>
            <line x1={PLOT.left} x2={PLOT.left + 7} y1={y(v)} y2={y(v)} />
            <line x1={PLOT.right} x2={PLOT.right - 7} y1={y(v)} y2={y(v)} />
          </g>
        ))}
      </g>

      {/* tick labels */}
      <g fontFamily={SERIF} fontSize={34} fill="#000">
        {X_MAJOR.map((v) => (
          <text key={`bl${v}`} x={x(v)} y={1548} textAnchor="middle">{v}</text>
        ))}
        {yearMJD.map(({ yr, mjd }) => (
          <text key={`tl${yr}`} x={x(mjd)} y={42} textAnchor="middle">{yr}</text>
        ))}
        {Y_MAJOR.map((v) => (
          <text key={`yl${v}`} x={PLOT.left - 12} y={y(v)} dy="0.36em" textAnchor="end">
            {d3.format('.1f')(v).replace('-', '\u2212')}
          </text>
        ))}
      </g>

      {/* axis titles */}
      <text x={(PLOT.left + PLOT.right) / 2} y={1592} textAnchor="middle" fontFamily={SERIF} fontSize={41}>
        {X_LABEL}
      </text>
      <text transform={`translate(50, ${(PLOT.top + PLOT.bottom) / 2}) rotate(-90)`} textAnchor="middle"
        fontFamily={SERIF} fontSize={41}>
        {Y_LABEL}
      </text>

      {/* title */}
      <text x={1303} y={144} textAnchor="middle" fontFamily={ROMAN} fontSize={95}>{TITLE}</text>

      {/* image labels */}
      {SERIES.map((s) => (
        <text key={`n${s.name}`} x={LABEL_POS[s.name][0]} y={LABEL_POS[s.name][1]} textAnchor="middle"
          fontFamily={ROMAN} fontSize={70} fill={s.color}>
          {s.name}
        </text>
      ))}
    </svg>
  );
}
